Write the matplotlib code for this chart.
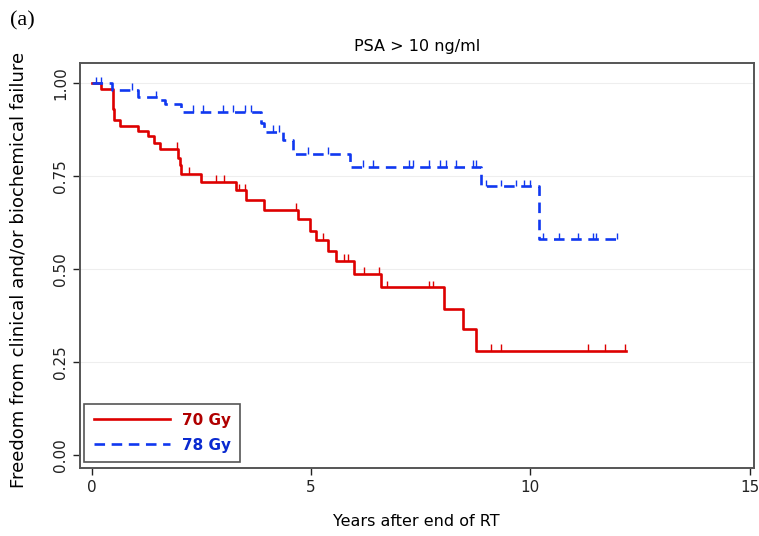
import numpy as np
import matplotlib.pyplot as plt

# Kaplan-Meier steps (years, survival after the step)
red_times = [0, 0.22, 0.49, 0.52, 0.64, 1.05, 1.28, 1.42, 1.55, 1.98, 2.01, 2.04,
             2.50, 3.30, 3.52, 3.94, 4.70, 4.97, 5.12, 5.38, 5.57, 5.99, 6.60,
             8.04, 8.46, 8.76, 12.18]
red_surv = [1.0, 0.985, 0.93, 0.90, 0.886, 0.873, 0.859, 0.839, 0.823, 0.80, 0.78, 0.757,
            0.735, 0.712, 0.685, 0.660, 0.634, 0.603, 0.578, 0.549, 0.522, 0.488, 0.451,
            0.394, 0.338, 0.280, 0.280]
red_censor = [1.94, 2.23, 2.84, 3.03, 3.37, 3.49, 4.66, 5.27, 5.76, 5.84, 6.22, 6.56,
              6.73, 7.70, 7.78, 9.10, 9.32, 11.31, 11.71, 12.16]

blue_times = [0, 0.47, 1.05, 1.55, 1.68, 2.05, 3.86, 3.94, 4.36, 4.59, 5.88, 8.88,
              10.2, 11.98]
blue_surv = [1.0, 0.982, 0.962, 0.954, 0.944, 0.924, 0.893, 0.869, 0.847, 0.811,
             0.775, 0.723, 0.580, 0.580]
blue_censor = [0.11, 0.22, 0.93, 1.48, 2.31, 2.54, 2.99, 3.22, 3.49, 3.64, 4.13, 4.28,
               4.93, 5.38, 6.18, 6.41, 7.24, 7.32, 7.70, 7.93, 8.08, 8.31, 8.69, 8.76,
               9.0, 9.33, 9.67, 9.85, 10.0, 10.28, 10.66, 11.08, 11.42, 11.50, 11.98]

x_ticks = [0, 5, 10, 15]
y_ticks = [0.0, 0.25, 0.5, 0.75, 1.0]

red = '#dd0000'
blue = '#1038f0'


def surv_at(times, surv, t):
    idx = np.searchsorted(times, t, side='right') - 1
    return np.asarray(surv)[idx]


fig = plt.figure(figsize=(7.59, 5.36), dpi=100)
ax = fig.add_axes([0.105, 0.127, 0.888, 0.755])

for yv in y_ticks[1:]:
    ax.axhline(yv, color='#eeeeee', lw=0.8, zorder=0)

ax.step(red_times, red_surv, where='post', color=red, lw=1.9, label='70 Gy')
ax.step(blue_times, blue_surv, where='post', color=blue, lw=1.9,
        linestyle=(0, (4, 2.5)), label='78 Gy')

rc = surv_at(red_times, red_surv, red_censor)
ax.vlines(red_censor, rc, rc + 0.018, color=red, lw=1.0)
bc = surv_at(blue_times, blue_surv, blue_censor)
ax.vlines(blue_censor, bc, bc + 0.018, color=blue, lw=1.0)

ax.set_xlim(-0.27, 15.09)
ax.set_ylim(-0.035, 1.054)
ax.set_xticks(x_ticks)
ax.set_yticks(y_ticks)
ax.set_yticklabels([f'{v:.2f}' for v in y_ticks], rotation=90, va='center')
ax.tick_params(direction='out', length=5, width=1, labelsize=11, colors='#222222')
for s in ax.spines.values():
    s.set_color('#555555')
    s.set_linewidth(1.4)

ax.set_xlabel('Years after end of RT', fontsize=11.5, labelpad=14)
ax.set_ylabel('Freedom from clinical and/or biochemical failure', fontsize=13)
ax.yaxis.set_label_coords(-0.078, 0.49)
ax.set_title('PSA > 10 ng/ml', fontsize=11.5, pad=9)
fig.text(0.013, 0.952, '(a)', fontsize=16, family='Liberation Serif')

leg = ax.legend(loc='lower left', bbox_to_anchor=(0.007, 0.015), borderaxespad=0,
                fancybox=False, edgecolor='#555555', handlelength=5,
                labelspacing=0.65, borderpad=0.6,
                prop={'weight': 'bold', 'size': 11}, framealpha=1)
leg.get_frame().set_linewidth(1.2)
leg.get_texts()[0].set_color('#b00000')
leg.get_texts()[1].set_color('#0a2ad0')

fig.savefig('out.png', dpi=100)
